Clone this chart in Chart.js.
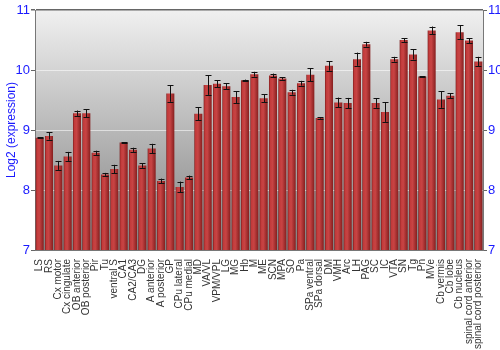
<!DOCTYPE html>
<html>
<head>
<meta charset="utf-8">
<script src="https://cdn.jsdelivr.net/npm/chart.js@4/dist/chart.umd.min.js"></script>
<style>
  html, body { margin:0; padding:0; background:#fff; }
  #wrap { width:500px; height:350px; }
</style>
</head>
<body>
<div id="wrap"><canvas id="exprChart" width="500" height="350"></canvas></div>
<script>
/* ---------- DATA ---------- */

const regions = ["LS","RS","Cx motor","Cx cingulate","OB anterior","OB posterior","Pir","Tu",
  "ventral S","CA1","CA2/CA3","DG","A anterior","A posterior","GP","CPu lateral","CPu medial",
  "MD","VA/VL","VPM/VPL","LG","MG","Hb","M","ME","SCN","MPA","SO","Pa","SPa ventral",
  "SPa dorsal","DM","VMH","Arc","LH","PAG","SC","IC","VTA","SN","Tg","Pn","MVe",
  "Cb vermis","Cb lobe","Cb nucleus","spinal cord anterior","spinal cord posterior"]

const expression = [8.87,8.90,8.41,8.56,9.28,9.28,8.62,8.26,
  8.35,8.79,8.67,8.41,8.69,8.15,9.61,8.05,8.21,
  9.27,9.75,9.77,9.73,9.55,9.83,9.93,9.53,9.91,9.86,9.63,9.78,9.92,
  9.20,10.07,9.46,9.45,10.18,10.43,9.45,9.30,10.18,10.50,10.26,9.89,10.66,
  9.51,9.57,10.63,10.49,10.14]

const stdErr = [0.01,0.06,0.075,0.075,0.045,0.065,0.035,0.025,
  0.07,0.01,0.035,0.04,0.08,0.04,0.14,0.09,0.03,
  0.11,0.165,0.06,0.045,0.10,0.01,0.04,0.065,0.03,0.02,0.04,0.04,0.11,
  0.01,0.08,0.08,0.085,0.11,0.04,0.08,0.165,0.04,0.03,0.085,0.01,0.065,
  0.14,0.04,0.115,0.04,0.08]

const yTicks = [7,8,9,10,11]

/* ---------- PLUGINS ---------- */

const plotBackground = {
  id:'plotBackground',
  beforeDraw(chart){
    const {ctx, chartArea:a} = chart
    const g = ctx.createLinearGradient(0, a.top, 0, a.bottom)
    g.addColorStop(0, '#f0f0f0')
    g.addColorStop(0.75, '#9c9c9c')
    g.addColorStop(1, '#808080')
    ctx.save()
    ctx.fillStyle = g
    ctx.fillRect(a.left, a.top, a.width, a.height)
    ctx.restore()
  }
}

const errorBars = {
  id:'errorBars',
  afterDatasetsDraw(chart){
    const {ctx} = chart
    const y = chart.scales.y
    const meta = chart.getDatasetMeta(0)
    ctx.save()
    ctx.strokeStyle = '#111'
    ctx.lineWidth = 1
    meta.data.forEach((bar, i) => {
      const e = stdErr[i]
      const x = Math.round(bar.x) + 0.5
      const hi = y.getPixelForValue(expression[i] + e)
      const lo = y.getPixelForValue(expression[i] - e)
      ctx.beginPath()
      ctx.moveTo(x, hi); ctx.lineTo(x, lo)
      ctx.moveTo(x - 3, Math.round(hi) + 0.5); ctx.lineTo(x + 3, Math.round(hi) + 0.5)
      ctx.moveTo(x - 3, Math.round(lo) + 0.5); ctx.lineTo(x + 3, Math.round(lo) + 0.5)
      ctx.stroke()
    })
    ctx.restore()
  }
}

/* ---------- CHART ---------- */

function barFill(c){
  const chart = c.chart
  const xs = chart.scales.x
  if (!chart.chartArea || !xs || c.dataIndex === undefined) return '#b83333'
  const cx = xs.getPixelForValue(c.dataIndex)
  const w = chart.chartArea.width / regions.length * 0.86
  const g = chart.ctx.createLinearGradient(cx - w / 2, 0, cx + w / 2, 0)
  g.addColorStop(0, '#7a1c1c')
  g.addColorStop(0.15, '#c23a3a')
  g.addColorStop(0.45, '#c84444')
  g.addColorStop(1, '#861f1f')
  return g
}

try {
  new Chart(document.getElementById("exprChart"),{
  type:'bar',
  data:{
  labels:regions,
  datasets:[
  {
  label:"Log2 (expression)",
  data:expression,
  backgroundColor:barFill,
  borderWidth:0,
  barPercentage:0.86,
  categoryPercentage:1
  }
  ]
  },
  options:{
  responsive:false,
  animation:false,
  layout:{padding:{top:10,left:0,right:0,bottom:0}},
  plugins:{legend:{display:false},tooltip:{enabled:false}},
  scales:{
  x:{
  grid:{display:false},
  border:{color:'#777'},
  ticks:{autoSkip:false,minRotation:90,maxRotation:90,padding:1,color:'#333',
    font:{family:'"Liberation Sans", Arial, sans-serif',size:10}},
  afterFit(s){ s.height = 100 }
  },
  y:{
  min:7,max:11,
  z:1,
  afterBuildTicks(s){ s.ticks = yTicks.map(v => ({value:v})) },
  title:{display:true,text:'Log2 (expression)',color:'#1a1aff',padding:{top:4,bottom:0},
    font:{family:'"Liberation Sans", Arial, sans-serif',size:12}},
  grid:{
    color:c => c.tick.value === 11 ? '#666' : (c.tick.value === 7 ? 'rgba(0,0,0,0)' : 'rgba(255,255,255,0.55)'),
    lineWidth:c => c.tick.value === 11 ? 1.5 : 1,
    tickColor:'#666',tickLength:4
  },
  border:{color:'#777'},
  ticks:{color:'#1a1aff',padding:1,
    font:{family:'"Liberation Sans", Arial, sans-serif',size:13}},
  afterFit(s){ s.width = 35 }
  },
  y2:{
  position:'right',
  min:7,max:11,
  afterBuildTicks(s){ s.ticks = yTicks.map(v => ({value:v})) },
  grid:{drawOnChartArea:false,tickColor:'#666',tickLength:4},
  border:{color:'#777'},
  ticks:{color:'#1a1aff',padding:1,
    font:{family:'"Liberation Sans", Arial, sans-serif',size:13}},
  afterFit(s){ s.width = 17 }
  }
  }
  },
  plugins:[plotBackground,errorBars]
  })
} catch(e) {
  console.error('Error initializing expression chart:', e)
}
</script>
</body>
</html>
